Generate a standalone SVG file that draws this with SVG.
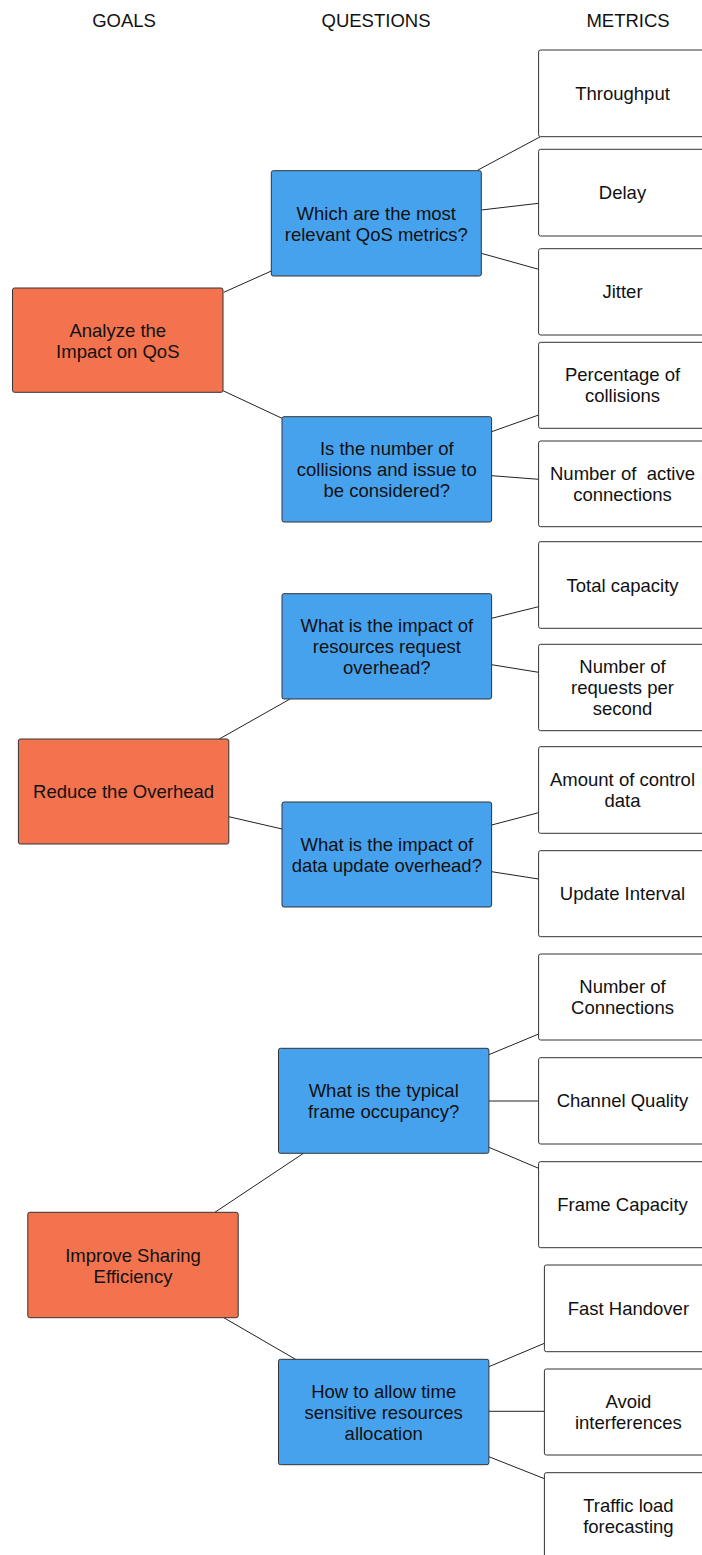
<svg xmlns="http://www.w3.org/2000/svg" width="702" height="1555" viewBox="0 0 702 1555">
  <style>
    .hdr { font-family: "Liberation Sans", Arial, Helvetica, sans-serif; font-size: 18.5px; fill: #111; text-anchor: middle; }
    .lbl { font-family: "Liberation Sans", Arial, Helvetica, sans-serif; font-size: 18.5px; fill: #111; text-anchor: middle; }
    .goal { fill: #F3734F; stroke: #333; stroke-width: 1; }
    .question { fill: #47A2EE; stroke: #333; stroke-width: 1; }
    .metric { fill: #fff; stroke: #333; stroke-width: 1; }
    .link { stroke: #222; stroke-width: 1; fill: none; }
  </style>

  <!-- column headers -->
  <g id="headers">
    <text class="hdr" x="124" y="26.7">GOALS</text>
    <text class="hdr" x="376" y="26.7">QUESTIONS</text>
    <text class="hdr" x="628" y="26.7">METRICS</text>
  </g>

  <!-- connectors -->
  <g id="connectors">
    <line class="link" x1="223.8" y1="292.3" x2="271.3" y2="271"/>
    <line class="link" x1="223" y1="390.7" x2="282" y2="418.3"/>
    <line class="link" x1="478" y1="170" x2="540.4" y2="136.7"/>
    <line class="link" x1="481.3" y1="210" x2="538.6" y2="203.3"/>
    <line class="link" x1="481.3" y1="253.3" x2="538.6" y2="269.3"/>
    <line class="link" x1="491.6" y1="431.7" x2="538.6" y2="415"/>
    <line class="link" x1="491.6" y1="475.7" x2="538.6" y2="479.3"/>

    <line class="link" x1="219.3" y1="739" x2="290" y2="699"/>
    <line class="link" x1="228.8" y1="816.7" x2="282" y2="829"/>
    <line class="link" x1="491.6" y1="618.3" x2="538.6" y2="606.7"/>
    <line class="link" x1="491.6" y1="664.7" x2="538.6" y2="672.3"/>
    <line class="link" x1="491.6" y1="825" x2="538.6" y2="812.7"/>
    <line class="link" x1="491.6" y1="871.7" x2="538.6" y2="879"/>

    <line class="link" x1="214.9" y1="1212.3" x2="303.5" y2="1153.3"/>
    <line class="link" x1="223.8" y1="1317.7" x2="295.5" y2="1359.3"/>
    <line class="link" x1="488.9" y1="1054.7" x2="538.6" y2="1034"/>
    <line class="link" x1="488.9" y1="1101" x2="538.6" y2="1101"/>
    <line class="link" x1="488.9" y1="1147.3" x2="538.6" y2="1168.3"/>
    <line class="link" x1="488.9" y1="1366.7" x2="544.4" y2="1343.3"/>
    <line class="link" x1="488.9" y1="1411.3" x2="544.4" y2="1411.3"/>
    <line class="link" x1="488.9" y1="1456.7" x2="544.4" y2="1478.7"/>
  </g>

  <!-- goals -->
  <g id="goal-qos">
    <rect class="goal" x="12.5" y="288" width="210.5" height="104.3" rx="2"/>
    <text class="lbl" x="117.8" y="336.7">Analyze the</text>
    <text class="lbl" x="117.8" y="357.7">Impact on QoS</text>
  </g>
  <g id="goal-overhead">
    <rect class="goal" x="18.4" y="739" width="210.4" height="105" rx="2"/>
    <text class="lbl" x="123.6" y="798">Reduce the Overhead</text>
  </g>
  <g id="goal-sharing">
    <rect class="goal" x="27.8" y="1212.3" width="210.4" height="105.4" rx="2"/>
    <text class="lbl" x="133" y="1261.5">Improve Sharing</text>
    <text class="lbl" x="133" y="1282.5">Efficiency</text>
  </g>

  <!-- questions -->
  <g id="q-qos-metrics">
    <rect class="question" x="271.3" y="170.7" width="210" height="105.3" rx="2"/>
    <text class="lbl" x="376.3" y="219.6">Which are the most</text>
    <text class="lbl" x="376.3" y="240.6">relevant QoS metrics?</text>
  </g>
  <g id="q-collisions">
    <rect class="question" x="282" y="416.7" width="209.6" height="105.3" rx="2"/>
    <text class="lbl" x="386.8" y="454.9">Is the number of</text>
    <text class="lbl" x="386.8" y="475.9">collisions and issue to</text>
    <text class="lbl" x="386.8" y="496.9">be considered?</text>
  </g>
  <g id="q-request-overhead">
    <rect class="question" x="282" y="593.7" width="209.6" height="105.3" rx="2"/>
    <text class="lbl" x="386.8" y="631.9">What is the impact of</text>
    <text class="lbl" x="386.8" y="652.9">resources request</text>
    <text class="lbl" x="386.8" y="673.9">overhead?</text>
  </g>
  <g id="q-update-overhead">
    <rect class="question" x="282" y="802" width="209.6" height="105" rx="2"/>
    <text class="lbl" x="386.8" y="850.6">What is the impact of</text>
    <text class="lbl" x="386.8" y="871.6">data update overhead?</text>
  </g>
  <g id="q-frame-occupancy">
    <rect class="question" x="278.5" y="1048.3" width="210.4" height="105" rx="2"/>
    <text class="lbl" x="383.7" y="1096.9">What is the typical</text>
    <text class="lbl" x="383.7" y="1117.9">frame occupancy?</text>
  </g>
  <g id="q-time-sensitive">
    <rect class="question" x="278.5" y="1359.3" width="210.4" height="105.4" rx="2"/>
    <text class="lbl" x="383.7" y="1397.6">How to allow time</text>
    <text class="lbl" x="383.7" y="1418.6">sensitive resources</text>
    <text class="lbl" x="383.7" y="1439.6">allocation</text>
  </g>

  <!-- metrics -->
  <g id="m-throughput">
    <rect class="metric" x="538.6" y="50" width="170" height="86.7" rx="2"/>
    <text class="lbl" x="622.5" y="99.9">Throughput</text>
  </g>
  <g id="m-delay">
    <rect class="metric" x="538.6" y="149.3" width="170" height="86.7" rx="2"/>
    <text class="lbl" x="622.5" y="199.3">Delay</text>
  </g>
  <g id="m-jitter">
    <rect class="metric" x="538.6" y="248.7" width="170" height="86.3" rx="2"/>
    <text class="lbl" x="622.5" y="298.4">Jitter</text>
  </g>
  <g id="m-collision-pct">
    <rect class="metric" x="538.6" y="342.3" width="170" height="86" rx="2"/>
    <text class="lbl" x="622.5" y="381.4">Percentage of</text>
    <text class="lbl" x="622.5" y="402.4">collisions</text>
  </g>
  <g id="m-active-connections">
    <rect class="metric" x="538.6" y="441" width="170" height="85.7" rx="2"/>
    <text class="lbl" x="622.5" y="479.9" xml:space="preserve">Number of  active</text>
    <text class="lbl" x="622.5" y="500.9">connections</text>
  </g>
  <g id="m-total-capacity">
    <rect class="metric" x="538.6" y="541.7" width="170" height="86.6" rx="2"/>
    <text class="lbl" x="622.5" y="591.6">Total capacity</text>
  </g>
  <g id="m-requests-rate">
    <rect class="metric" x="538.6" y="644.3" width="170" height="86.4" rx="2"/>
    <text class="lbl" x="622.5" y="673.1">Number of</text>
    <text class="lbl" x="622.5" y="694.1">requests per</text>
    <text class="lbl" x="622.5" y="715.1">second</text>
  </g>
  <g id="m-control-data">
    <rect class="metric" x="538.6" y="746.7" width="170" height="86.6" rx="2"/>
    <text class="lbl" x="622.5" y="786.1">Amount of control</text>
    <text class="lbl" x="622.5" y="807.1">data</text>
  </g>
  <g id="m-update-interval">
    <rect class="metric" x="538.6" y="850.7" width="170" height="86" rx="2"/>
    <text class="lbl" x="622.5" y="900.3">Update Interval</text>
  </g>
  <g id="m-connections">
    <rect class="metric" x="538.6" y="954" width="170" height="86" rx="2"/>
    <text class="lbl" x="622.5" y="993.1">Number of</text>
    <text class="lbl" x="622.5" y="1014.1">Connections</text>
  </g>
  <g id="m-channel-quality">
    <rect class="metric" x="538.6" y="1057.7" width="170" height="86.3" rx="2"/>
    <text class="lbl" x="622.5" y="1107.4">Channel Quality</text>
  </g>
  <g id="m-frame-capacity">
    <rect class="metric" x="538.6" y="1161.7" width="170" height="86" rx="2"/>
    <text class="lbl" x="622.5" y="1211.3">Frame Capacity</text>
  </g>
  <g id="m-fast-handover">
    <rect class="metric" x="544.4" y="1265" width="170" height="86.7" rx="2"/>
    <text class="lbl" x="628.4" y="1314.9">Fast Handover</text>
  </g>
  <g id="m-interferences">
    <rect class="metric" x="544.4" y="1369" width="170" height="86" rx="2"/>
    <text class="lbl" x="628.4" y="1408.1">Avoid</text>
    <text class="lbl" x="628.4" y="1429.1">interferences</text>
  </g>
  <g id="m-load-forecast">
    <rect class="metric" x="544.4" y="1472.7" width="170" height="86" rx="2"/>
    <text class="lbl" x="628.4" y="1511.7">Traffic load</text>
    <text class="lbl" x="628.4" y="1532.7">forecasting</text>
  </g>
</svg>
